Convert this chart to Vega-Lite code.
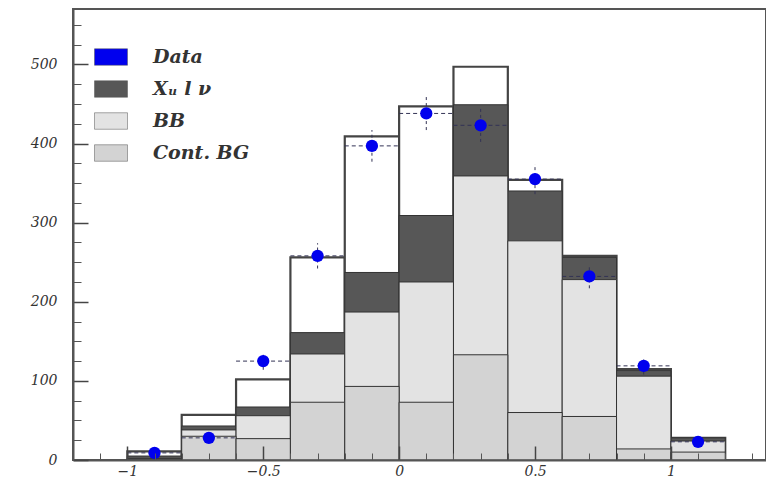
{
  "$schema": "https://vega.github.io/schema/vega-lite/v6.json",
  "width": 693,
  "height": 451,
  "autosize": {"type": "none"},
  "padding": {"left": 73, "top": 9, "right": 0, "bottom": 17},
  "background": "white",
  "config": {
    "view": {"stroke": "#555555", "strokeWidth": 2},
    "axis": {"ticks": true}
  },
  "datasets": {
    "totals": [
      {"lo": -1.0, "hi": -0.8, "top": 11},
      {"lo": -0.8, "hi": -0.6, "top": 57},
      {"lo": -0.6, "hi": -0.4, "top": 102},
      {"lo": -0.4, "hi": -0.2, "top": 256},
      {"lo": -0.2, "hi": 0.0, "top": 409},
      {"lo": 0.0, "hi": 0.2, "top": 447},
      {"lo": 0.2, "hi": 0.4, "top": 497},
      {"lo": 0.4, "hi": 0.6, "top": 354},
      {"lo": 0.6, "hi": 0.8, "top": 258},
      {"lo": 0.8, "hi": 1.0, "top": 115},
      {"lo": 1.0, "hi": 1.2, "top": 28}
    ],
    "comps": [
      {"lo": -1.0, "hi": -0.8, "comp": "Xᵤ l ν", "top": 5},
      {"lo": -0.8, "hi": -0.6, "comp": "Xᵤ l ν", "top": 43},
      {"lo": -0.6, "hi": -0.4, "comp": "Xᵤ l ν", "top": 67},
      {"lo": -0.4, "hi": -0.2, "comp": "Xᵤ l ν", "top": 161},
      {"lo": -0.2, "hi": 0.0, "comp": "Xᵤ l ν", "top": 237},
      {"lo": 0.0, "hi": 0.2, "comp": "Xᵤ l ν", "top": 309},
      {"lo": 0.2, "hi": 0.4, "comp": "Xᵤ l ν", "top": 449},
      {"lo": 0.4, "hi": 0.6, "comp": "Xᵤ l ν", "top": 340},
      {"lo": 0.6, "hi": 0.8, "comp": "Xᵤ l ν", "top": 256},
      {"lo": 0.8, "hi": 1.0, "comp": "Xᵤ l ν", "top": 113},
      {"lo": 1.0, "hi": 1.2, "comp": "Xᵤ l ν", "top": 28},
      {"lo": -1.0, "hi": -0.8, "comp": "BB", "top": 2},
      {"lo": -0.8, "hi": -0.6, "comp": "BB", "top": 38},
      {"lo": -0.6, "hi": -0.4, "comp": "BB", "top": 56},
      {"lo": -0.4, "hi": -0.2, "comp": "BB", "top": 134},
      {"lo": -0.2, "hi": 0.0, "comp": "BB", "top": 187},
      {"lo": 0.0, "hi": 0.2, "comp": "BB", "top": 225},
      {"lo": 0.2, "hi": 0.4, "comp": "BB", "top": 359},
      {"lo": 0.4, "hi": 0.6, "comp": "BB", "top": 277},
      {"lo": 0.6, "hi": 0.8, "comp": "BB", "top": 228},
      {"lo": 0.8, "hi": 1.0, "comp": "BB", "top": 106},
      {"lo": 1.0, "hi": 1.2, "comp": "BB", "top": 24},
      {"lo": -1.0, "hi": -0.8, "comp": "Cont. BG", "top": 1},
      {"lo": -0.8, "hi": -0.6, "comp": "Cont. BG", "top": 30},
      {"lo": -0.6, "hi": -0.4, "comp": "Cont. BG", "top": 27},
      {"lo": -0.4, "hi": -0.2, "comp": "Cont. BG", "top": 73},
      {"lo": -0.2, "hi": 0.0, "comp": "Cont. BG", "top": 93},
      {"lo": 0.0, "hi": 0.2, "comp": "Cont. BG", "top": 73},
      {"lo": 0.2, "hi": 0.4, "comp": "Cont. BG", "top": 133},
      {"lo": 0.4, "hi": 0.6, "comp": "Cont. BG", "top": 60},
      {"lo": 0.6, "hi": 0.8, "comp": "Cont. BG", "top": 55},
      {"lo": 0.8, "hi": 1.0, "comp": "Cont. BG", "top": 14},
      {"lo": 1.0, "hi": 1.2, "comp": "Cont. BG", "top": 10}
    ],
    "points": [
      {"x": -0.9, "lo": -1.0, "hi": -0.8, "comp": "Data", "n": 9, "nlo": 6, "nhi": 12},
      {"x": -0.7, "lo": -0.8, "hi": -0.6, "comp": "Data", "n": 28, "nlo": 23, "nhi": 33},
      {"x": -0.5, "lo": -0.6, "hi": -0.4, "comp": "Data", "n": 125, "nlo": 114, "nhi": 136},
      {"x": -0.3, "lo": -0.4, "hi": -0.2, "comp": "Data", "n": 258, "nlo": 242, "nhi": 274},
      {"x": -0.1, "lo": -0.2, "hi": 0.0, "comp": "Data", "n": 397, "nlo": 377, "nhi": 417},
      {"x": 0.1, "lo": 0.0, "hi": 0.2, "comp": "Data", "n": 438, "nlo": 417, "nhi": 459},
      {"x": 0.3, "lo": 0.2, "hi": 0.4, "comp": "Data", "n": 423, "nlo": 402, "nhi": 444},
      {"x": 0.5, "lo": 0.4, "hi": 0.6, "comp": "Data", "n": 355, "nlo": 336, "nhi": 374},
      {"x": 0.7, "lo": 0.6, "hi": 0.8, "comp": "Data", "n": 232, "nlo": 217, "nhi": 247},
      {"x": 0.9, "lo": 0.8, "hi": 1.0, "comp": "Data", "n": 119, "nlo": 108, "nhi": 130},
      {"x": 1.1, "lo": 1.0, "hi": 1.2, "comp": "Data", "n": 23, "nlo": 18, "nhi": 28}
    ],
    "dummy": [{"v": 0, "w": 0}]
  },
  "resolve": {"axis": {"x": "independent", "y": "independent"}},
  "layer": [
    {
      "data": {"name": "dummy"},
      "mark": {"type": "point", "opacity": 0},
      "encoding": {
        "x": {"field": "v", "type": "quantitative",
              "scale": {"domain": [-1.2, 1.35], "nice": false, "zero": false, "padding": 0},
              "axis": {"values": [-1, -0.5, 0, 0.5, 1], "ticks": true, "tickSize": -14, "tickColor": "#444444", "tickWidth": 1.5, "tickOpacity": 1,
                       "domainColor": "#555555", "domainWidth": 2, "grid": false, "title": null, "zindex": 1,
                       "labelFont": "DejaVu Serif", "labelFontStyle": "italic", "labelFontSize": 14, "labelColor": "#333333",
                       "labelPadding": 18, "format": "~g", "labelFlush": false, "orient": "bottom"}},
        "y": {"field": "w", "type": "quantitative",
              "scale": {"domain": [0, 570], "nice": false, "padding": 0},
              "axis": {"values": [0, 100, 200, 300, 400, 500], "ticks": true, "tickSize": -15, "tickColor": "#444444", "tickWidth": 1.5, "tickOpacity": 1,
                       "domainColor": "#555555", "domainWidth": 2, "grid": false, "title": null, "zindex": 1,
                       "labelFont": "DejaVu Serif", "labelFontStyle": "italic", "labelFontSize": 14, "labelColor": "#333333",
                       "labelPadding": 31, "orient": "left"}}
      }
    },
    {
      "data": {"name": "dummy"},
      "mark": {"type": "point", "opacity": 0},
      "encoding": {
        "x": {"field": "v", "type": "quantitative",
              "axis": {"values": [-1.1, -0.9, -0.8, -0.7, -0.6, -0.4, -0.3, -0.2, -0.1, 0.1, 0.2, 0.3, 0.4, 0.6, 0.7, 0.8, 0.9, 1.1, 1.2, 1.3],
                       "labels": false, "domain": false, "grid": false, "title": null, "ticks": true, "tickOpacity": 1, "zindex": 1,
                       "tickSize": -7, "tickColor": "#555555", "tickWidth": 1, "orient": "bottom"}},
        "y": {"field": "w", "type": "quantitative",
              "axis": {"values": [25, 50, 75, 125, 150, 175, 225, 250, 275, 325, 350, 375, 425, 450, 475, 525, 550],
                       "labels": false, "domain": false, "grid": false, "title": null, "ticks": true, "tickOpacity": 1, "zindex": 1,
                       "tickSize": -8, "tickColor": "#555555", "tickWidth": 1, "orient": "left"}}
      }
    },
    {
      "data": {"name": "totals"},
      "mark": {"type": "bar", "orient": "vertical", "fill": "white", "stroke": "#444444", "strokeWidth": 2.2},
      "encoding": {
        "x": {"field": "lo", "type": "quantitative", "axis": null},
        "x2": {"field": "hi"},
        "y": {"field": "top", "type": "quantitative", "stack": null, "axis": null}
      }
    },
    {
      "data": {"name": "comps"},
      "mark": {"type": "bar", "orient": "vertical", "stroke": "#333333", "strokeWidth": 1},
      "encoding": {
        "x": {"field": "lo", "type": "quantitative", "axis": null},
        "x2": {"field": "hi"},
        "y": {"field": "top", "type": "quantitative", "stack": null, "axis": null},
        "color": {"field": "comp", "type": "nominal",
                  "scale": {"domain": ["Data", "Xᵤ l ν", "BB", "Cont. BG"], "range": ["#0000ee", "#575757", "#e3e3e3", "#d3d3d3"]},
                  "legend": {"title": null, "orient": "none", "legendX": 21, "legendY": 31, "padding": 0,
                             "symbolType": "M-1,-0.5H1V0.5H-1Z", "symbolSize": 1089, "symbolStrokeColor": "#555555", "symbolStrokeWidth": 0.5,
                             "labelFont": "DejaVu Serif", "labelFontStyle": "italic", "labelFontWeight": "bold", "labelFontSize": 19,
                             "labelColor": "#333333", "labelOffset": 25, "rowPadding": 5}}
      }
    },
    {
      "data": {"name": "points"},
      "mark": {"type": "rule", "color": "#333355", "strokeDash": [4, 3], "strokeWidth": 1},
      "encoding": {
        "x": {"field": "lo", "type": "quantitative", "axis": null},
        "x2": {"field": "hi"},
        "y": {"field": "n", "type": "quantitative", "axis": null}
      }
    },
    {
      "data": {"name": "points"},
      "mark": {"type": "rule", "color": "#333355", "strokeDash": [3, 3], "strokeWidth": 1},
      "encoding": {
        "x": {"field": "x", "type": "quantitative", "axis": null},
        "y": {"field": "nlo", "type": "quantitative", "axis": null},
        "y2": {"field": "nhi"}
      }
    },
    {
      "data": {"name": "points"},
      "mark": {"type": "point", "shape": "circle", "filled": true, "size": 150, "opacity": 1},
      "encoding": {
        "x": {"field": "x", "type": "quantitative", "axis": null},
        "y": {"field": "n", "type": "quantitative", "axis": null},
        "color": {"field": "comp", "type": "nominal"}
      }
    }
  ]
}
